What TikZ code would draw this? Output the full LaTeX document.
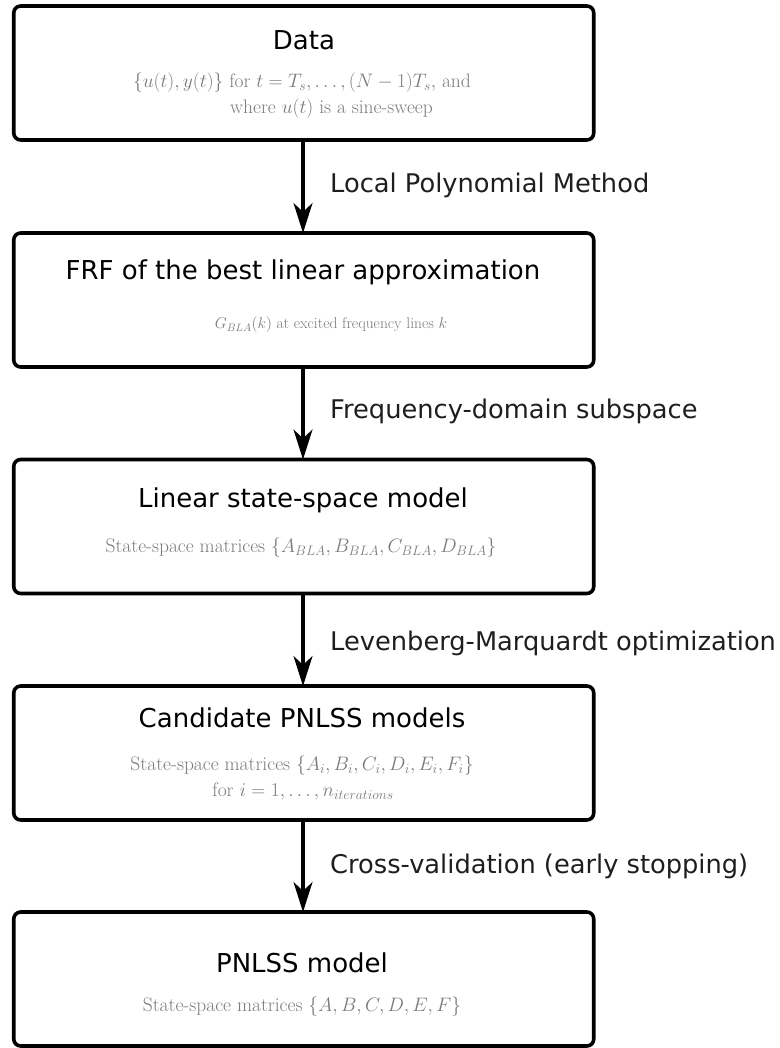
\RequirePackage{fix-cm}
\documentclass[tikz,border=0pt]{standalone}
\usepackage{fontspec}
\usetikzlibrary{arrows.meta}
\newfontfamily\headfont{DejaVu Sans}
\definecolor{subgrey}{HTML}{7A7A7A}
\definecolor{labelink}{HTML}{1E1E1E}
\begin{document}
\begin{tikzpicture}[x=1pt,y=-1pt,
  stage/.style={draw=black, line width=3.6pt, rounded corners=7pt,
    minimum width=580pt, minimum height=134pt, inner sep=0pt, outer sep=0pt},
  heading/.style={font=\headfont\fontsize{26}{30}\selectfont, text=black, inner sep=0pt},
  detail/.style={font=\fontsize{19.5}{23}\selectfont, text=subgrey, inner sep=0pt},
  smalldetail/.style={detail, font=\fontsize{15.5}{19}\selectfont},
  method/.style={font=\headfont\fontsize{25.7}{30}\selectfont, text=labelink,
    inner sep=0pt, anchor=base west},
  flow/.style={line width=3.2pt, -{Stealth[length=30pt, width=19pt, inset=9pt]}}]
\useasboundingbox (0,0) rectangle (779,1048);

% stage boxes
\node[stage] (data) at (303.75,73) {};
\node[stage] (frf)  at (303.75,300) {};
\node[stage] (lin)  at (303.75,526.5) {};
\node[stage] (cand) at (303.75,753) {};
\node[stage] (pnl)  at (303.75,979) {};

% box contents
\node[heading] (t1) at (304,40) {Data};
\node[detail] (d1a) at (302,83) {$\{u(t),y(t)\}$ for $t=T_s,\ldots,(N-1)T_s,$ and};
\node[detail] (d1b) at (331.5,109) {where $u(t)$ is a sine-sweep};

\node[heading] (t2) at (303,272) {FRF of the best linear approximation};
\node[smalldetail] (d2) at (331,325) {$G_{BLA}(k)$ at excited frequency lines $k$};

\node[heading] (t3) at (303,500) {Linear state-space model};
\node[detail] (d3) at (301,548) {State-space matrices $\{A_{BLA},B_{BLA},C_{BLA},D_{BLA}\}$};

\node[heading] (t4) at (302,718) {Candidate PNLSS models};
\node[detail] (d4a) at (302,766) {State-space matrices $\{A_i,B_i,C_i,D_i,E_i,F_i\}$};
\node[detail] (d4b) at (303,792) {for $i=1,\ldots,n_{iterations}$};

\node[heading] (t5) at (302,963) {PNLSS model};
\node[detail] (d5) at (302,1007) {State-space matrices $\{A,B,C,D,E,F\}$};

% connectors
\coordinate (a1) at (303,0);
\draw[flow] (data.south -| a1) -- (frf.north -| a1);
\draw[flow] (frf.south -| a1) -- (lin.north -| a1);
\draw[flow] (lin.south -| a1) -- (cand.north -| a1);
\draw[flow] (cand.south -| a1) -- (pnl.north -| a1);

% method labels
\node[method] (m1) at (330,193) {Local Polynomial Method};
\node[method] (m2) at (330,418) {Frequency-domain subspace};
\node[method] (m3) at (330,650) {Levenberg-Marquardt optimization};
\node[method] (m4) at (330,873) {Cross-validation (early stopping)};
\end{tikzpicture}
\end{document}
